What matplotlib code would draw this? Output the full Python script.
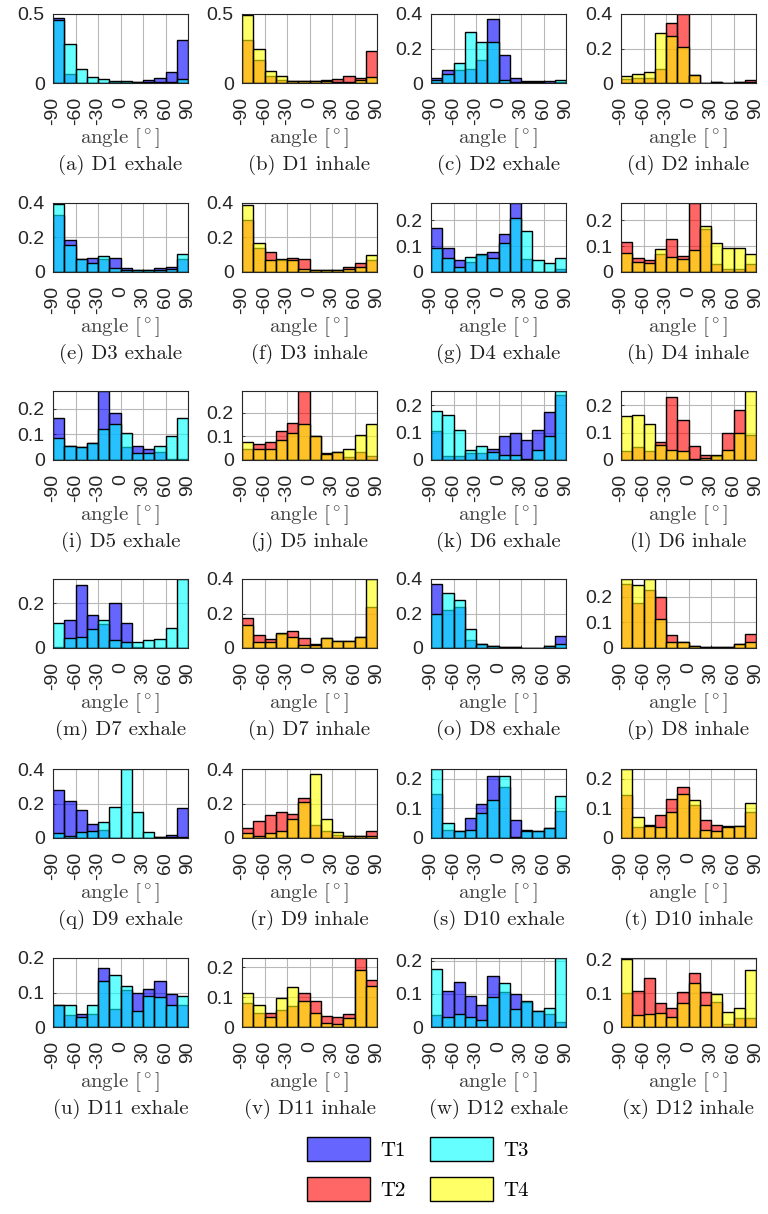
import matplotlib.pyplot as plt
import numpy as np
from matplotlib.colors import to_rgba
from matplotlib.patches import Patch

plt.rcParams['font.family'] = ['Liberation Sans', 'DejaVu Sans']
plt.rcParams['mathtext.fontset'] = 'cm'

# histogram bins (15 degree wide) and x ticks
edges = np.arange(-90, 91, 15)
tick_angles = [-90, -60, -30, 0, 30, 60, 90]
tick_labels = ['-90', '-60', '-30', '0', '30', '60', '90']
letters = 'abcdefghijklmnopqrstuvwx'

# exhale histograms, one row per data set D1..D12
exhale_T1 = [
    [0.47, 0.063, 0.0, 0.0, 0.0, 0.01, 0.01, 0.007, 0.024, 0.039, 0.078, 0.308],
    [0.031, 0.078, 0.074, 0.08, 0.136, 0.369, 0.161, 0.031, 0.01, 0.01, 0.01, 0.005],
    [0.328, 0.185, 0.074, 0.084, 0.074, 0.084, 0.023, 0.014, 0.014, 0.021, 0.03, 0.074],
    [0.168, 0.092, 0.048, 0.04, 0.066, 0.077, 0.147, 0.266, 0.052, 0.0, 0.0, 0.013],
    [0.165, 0.056, 0.051, 0.066, 0.27, 0.184, 0.052, 0.056, 0.043, 0.032, 0.005, 0.005],
    [0.105, 0.016, 0.016, 0.024, 0.024, 0.042, 0.087, 0.1, 0.072, 0.109, 0.176, 0.236],
    [0.005, 0.124, 0.282, 0.15, 0.11, 0.2, 0.114, 0.003, 0.0, 0.0, 0.0, 0.0],
    [0.372, 0.22, 0.24, 0.047, 0.025, 0.013, 0.006, 0.006, 0.002, 0.002, 0.009, 0.07],
    [0.276, 0.215, 0.161, 0.084, 0.045, 0.0, 0.0, 0.0, 0.0, 0.008, 0.015, 0.176],
    [0.147, 0.027, 0.024, 0.067, 0.116, 0.21, 0.172, 0.06, 0.026, 0.022, 0.032, 0.091],
    [0.063, 0.036, 0.038, 0.039, 0.171, 0.053, 0.108, 0.099, 0.11, 0.134, 0.096, 0.065],
    [0.037, 0.11, 0.137, 0.095, 0.067, 0.154, 0.107, 0.099, 0.076, 0.049, 0.04, 0.015],
]
exhale_T3 = [
    [0.455, 0.28, 0.104, 0.044, 0.029, 0.012, 0.012, 0.005, 0.01, 0.008, 0.005, 0.029],
    [0.02, 0.05, 0.117, 0.293, 0.237, 0.237, 0.02, 0.005, 0.003, 0.003, 0.0, 0.016],
    [0.396, 0.158, 0.074, 0.05, 0.09, 0.025, 0.012, 0.014, 0.014, 0.014, 0.02, 0.103],
    [0.092, 0.053, 0.019, 0.059, 0.068, 0.055, 0.11, 0.208, 0.159, 0.045, 0.034, 0.055],
    [0.087, 0.054, 0.049, 0.066, 0.121, 0.142, 0.106, 0.026, 0.029, 0.056, 0.094, 0.165],
    [0.179, 0.166, 0.109, 0.036, 0.052, 0.028, 0.02, 0.02, 0.003, 0.036, 0.087, 0.252],
    [0.114, 0.047, 0.051, 0.085, 0.127, 0.034, 0.029, 0.029, 0.034, 0.041, 0.088, 0.31],
    [0.198, 0.317, 0.279, 0.113, 0.025, 0.013, 0.006, 0.006, 0.002, 0.002, 0.009, 0.025],
    [0.027, 0.013, 0.033, 0.042, 0.094, 0.182, 0.4, 0.153, 0.033, 0.008, 0.008, 0.004],
    [0.232, 0.049, 0.024, 0.027, 0.083, 0.127, 0.21, 0.004, 0.022, 0.022, 0.032, 0.141],
    [0.063, 0.063, 0.029, 0.063, 0.132, 0.152, 0.118, 0.045, 0.089, 0.087, 0.065, 0.091],
    [0.177, 0.03, 0.039, 0.03, 0.022, 0.09, 0.132, 0.054, 0.079, 0.049, 0.057, 0.209],
]
# inhale histograms
inhale_T2 = [
    [0.315, 0.17, 0.049, 0.02, 0.018, 0.012, 0.012, 0.02, 0.029, 0.049, 0.039, 0.23],
    [0.025, 0.031, 0.031, 0.083, 0.348, 0.4, 0.044, 0.002, 0.008, 0.002, 0.008, 0.015],
    [0.302, 0.139, 0.115, 0.07, 0.084, 0.074, 0.014, 0.014, 0.014, 0.03, 0.053, 0.07],
    [0.117, 0.055, 0.045, 0.068, 0.126, 0.062, 0.266, 0.165, 0.03, 0.01, 0.01, 0.032],
    [0.046, 0.066, 0.077, 0.123, 0.155, 0.293, 0.101, 0.03, 0.035, 0.014, 0.032, 0.018],
    [0.033, 0.048, 0.034, 0.067, 0.23, 0.145, 0.052, 0.018, 0.016, 0.1, 0.182, 0.091],
    [0.174, 0.075, 0.051, 0.082, 0.098, 0.06, 0.025, 0.06, 0.038, 0.043, 0.066, 0.24],
    [0.251, 0.175, 0.225, 0.2, 0.051, 0.022, 0.006, 0.002, 0.002, 0.002, 0.017, 0.055],
    [0.056, 0.1, 0.132, 0.153, 0.142, 0.23, 0.075, 0.042, 0.017, 0.013, 0.013, 0.038],
    [0.144, 0.038, 0.044, 0.077, 0.132, 0.172, 0.11, 0.06, 0.044, 0.04, 0.041, 0.086],
    [0.079, 0.048, 0.046, 0.057, 0.07, 0.112, 0.087, 0.038, 0.035, 0.044, 0.23, 0.156],
    [0.099, 0.107, 0.145, 0.072, 0.055, 0.104, 0.16, 0.102, 0.073, 0.009, 0.026, 0.026],
]
inhale_T4 = [
    [0.49, 0.248, 0.087, 0.053, 0.018, 0.012, 0.012, 0.012, 0.01, 0.01, 0.02, 0.044],
    [0.038, 0.054, 0.062, 0.29, 0.271, 0.208, 0.044, 0.002, 0.008, 0.002, 0.008, 0.005],
    [0.39, 0.166, 0.068, 0.074, 0.072, 0.016, 0.014, 0.014, 0.014, 0.016, 0.03, 0.096],
    [0.074, 0.04, 0.034, 0.088, 0.059, 0.049, 0.085, 0.179, 0.111, 0.094, 0.094, 0.068],
    [0.077, 0.046, 0.046, 0.085, 0.115, 0.151, 0.101, 0.025, 0.035, 0.045, 0.106, 0.151],
    [0.161, 0.166, 0.133, 0.055, 0.036, 0.033, 0.003, 0.008, 0.018, 0.036, 0.1, 0.252],
    [0.132, 0.032, 0.032, 0.085, 0.066, 0.019, 0.02, 0.06, 0.038, 0.043, 0.066, 0.4],
    [0.27, 0.245, 0.27, 0.115, 0.022, 0.022, 0.006, 0.002, 0.002, 0.002, 0.017, 0.025],
    [0.027, 0.01, 0.027, 0.038, 0.109, 0.211, 0.372, 0.109, 0.036, 0.013, 0.013, 0.013],
    [0.232, 0.071, 0.039, 0.036, 0.088, 0.147, 0.128, 0.027, 0.022, 0.037, 0.041, 0.119],
    [0.115, 0.074, 0.035, 0.098, 0.134, 0.087, 0.046, 0.015, 0.01, 0.03, 0.191, 0.137],
    [0.2, 0.034, 0.038, 0.041, 0.029, 0.07, 0.128, 0.065, 0.098, 0.043, 0.057, 0.169],
]
# upper y limit of each panel (a..x)
y_top = [0.5, 0.5, 0.4, 0.4,
         0.4, 0.4, 0.266, 0.266,
         0.27, 0.293, 0.252, 0.252,
         0.31, 0.4, 0.4, 0.27,
         0.4, 0.4, 0.232, 0.232,
         0.2, 0.23, 0.209, 0.203]

# pure MATLAB-like colours, drawn semi-transparent
c_T1, c_T2, c_T3, c_T4 = (0, 0, 1), (1, 0, 0), (0, 1, 1), (1, 1, 0)

W, H = 768, 1214
fig = plt.figure(figsize=(W / 100, H / 100), dpi=100)

col_left = [53, 242, 431, 621]
row_top = [14, 203, 391, 579, 769, 958]
ax_w, ax_h = 135, 69
serif = ['cmr10', 'DejaVu Serif']
alpha = 0.6

for k in range(24):
    r, c = divmod(k, 4)
    d = k // 2
    ax = fig.add_axes([col_left[c] / W, 1 - (row_top[r] + ax_h) / H, ax_w / W, ax_h / H])
    if k % 2 == 0:
        series = [(exhale_T1[d], c_T1), (exhale_T3[d], c_T3)]
        phase = 'exhale'
    else:
        series = [(inhale_T2[d], c_T2), (inhale_T4[d], c_T4)]
        phase = 'inhale'
    for vals, col in series:
        ax.bar(edges[:-1], vals, width=15, align='edge', facecolor=to_rgba(col, alpha),
               edgecolor='k', linewidth=1.0)

    top = y_top[k]
    step = 0.5 if top >= 0.5 else (0.2 if top >= 0.3 else 0.1)
    yt = np.arange(0, top + 1e-9, step)
    ax.set_xlim(-90, 90)
    ax.set_ylim(0, top)
    ax.set_xticks(tick_angles)
    ax.set_xticklabels(tick_labels, rotation=90)
    ax.set_yticks(yt)
    ax.set_yticklabels(['%g' % v for v in yt])
    ax.tick_params(direction='in', length=2.5, labelsize=14, colors='#262626', width=0.6)
    ax.tick_params(axis='x', pad=10)
    ax.tick_params(axis='y', pad=6)
    ax.grid(True, color='#b8b8b8', linewidth=0.8)
    ax.set_axisbelow(True)
    for s in ax.spines.values():
        s.set_color('#262626')
        s.set_linewidth(0.8)

    xc = (col_left[c] + ax_w / 2) / W
    yb = row_top[r] + ax_h
    fig.text(xc, 1 - (yb + 55) / H, r'angle [$^\circ$]', ha='center', va='center',
             fontsize=15, family=serif, color='#404040')
    fig.text(xc, 1 - (yb + 82) / H, '(%s) D%d %s' % (letters[k], d + 1, phase),
             ha='center', va='center', fontsize=15, family=serif, color='#202020')

handles = [Patch(facecolor=to_rgba(c_T1, alpha), edgecolor='k', label='T1'),
           Patch(facecolor=to_rgba(c_T2, alpha), edgecolor='k', label='T2'),
           Patch(facecolor=to_rgba(c_T3, alpha), edgecolor='k', label='T3'),
           Patch(facecolor=to_rgba(c_T4, alpha), edgecolor='k', label='T4')]
fig.legend(handles=handles, ncol=2, loc='center', bbox_to_anchor=(418 / W, 1 - 1169 / H),
           frameon=False, prop={'family': serif, 'size': 15}, handlelength=3.0,
           handleheight=1.35, handletextpad=0.5, columnspacing=1.2, labelspacing=0.8)

fig.savefig('out.png', dpi=100)
